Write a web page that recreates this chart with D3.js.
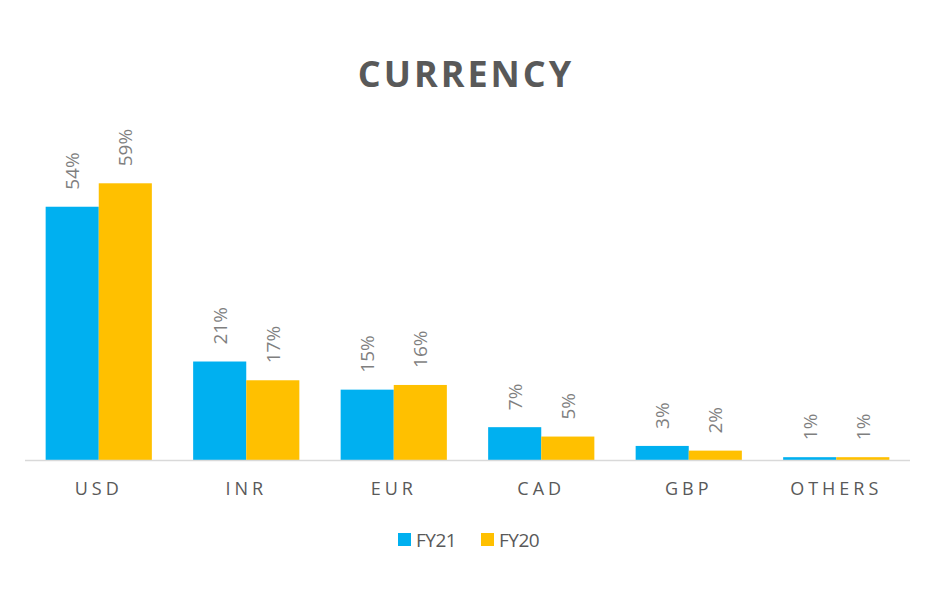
<!DOCTYPE html>
<html>
<head>
<meta charset="utf-8">
<script src="https://cdn.jsdelivr.net/npm/d3@7"></script>
<style>
  body { margin: 0; background: #fff; }
  text { font-family: "Open Sans", sans-serif; }
</style>
</head>
<body>
<div id="chart"></div>
<script>
let width = 936,
    height = 592;

// data
let categories = ["USD", "INR", "EUR", "CAD", "GBP", "OTHERS"];
let seriesNames = ["FY21", "FY20"];
let fy21 = [54, 21, 15, 7, 3, 0.6];
let fy20 = [59, 17, 16, 5, 2, 0.6];
let colors = ["#00B0F0", "#FFC000"];

let svg = d3.select("#chart").append("svg")
    .attr("width", width)
    .attr("height", height)
    .style("background", "#fff");

let x = d3.scaleBand()
    .domain(categories)
    .range([25, 910])
    .paddingInner(0.28)
    .paddingOuter(0.14);

let x1 = d3.scaleBand()
    .domain(seriesNames)
    .range([0, x.bandwidth()]);

let y = d3.scaleLinear()
    .domain([0, 60])
    .range([460, 178.6]);

let rows = categories.map((c, i) => ({cat: c, values: [fy21[i], fy20[i]]}));

// title
svg.append("text")
    .attr("x", 466)
    .attr("y", 87)
    .attr("text-anchor", "middle")
    .style("font-size", "36px")
    .style("font-weight", "bold")
    .style("letter-spacing", "3px")
    .style("fill", "#595959")
    .text("CURRENCY");

let groups = svg.selectAll(".grp")
    .data(rows)
    .enter().append("g")
    .attr("class", "grp")
    .attr("transform", d => "translate(" + x(d.cat) + ",0)");

groups.selectAll("rect")
    .data(d => d.values.map((v, j) => ({s: seriesNames[j], v: v, j: j})))
    .enter().append("rect")
    .attr("x", d => x1(d.s))
    .attr("y", d => y(d.v))
    .attr("width", x1.bandwidth())
    .attr("height", d => y(0) - y(d.v))
    .style("fill", d => colors[d.j]);

groups.selectAll(".lbl")
    .data(d => d.values.map((v, j) => ({s: seriesNames[j], v: v})))
    .enter().append("text")
    .attr("class", "lbl")
    .attr("transform", d => "translate(" + (x1(d.s) + x1.bandwidth() / 2 + 7) + "," + (y(d.v) - 17) + ") rotate(-90)")
    .style("font-size", "19px")
    .style("fill", "#7f7f7f")
    .text(d => Math.max(1, Math.round(d.v)) + "%");

// axis
let xAxis = svg.append("g")
    .attr("transform", "translate(0," + y(0) + ")")
    .call(d3.axisBottom(x).tickSize(0).tickPadding(22));
xAxis.select(".domain").attr("d", "M25,0.5H910").style("stroke", "#d9d9d9").style("stroke-width", 1.5);
xAxis.selectAll("text")
    .style("font-family", "'Open Sans', sans-serif")
    .style("font-size", "18px")
    .style("letter-spacing", "4px")
    .style("fill", "#595959");

// legend
let legend = svg.append("g").attr("transform", "translate(398,533)");
let items = legend.selectAll("g")
    .data(seriesNames)
    .enter().append("g")
    .attr("transform", (d, i) => "translate(" + (i * 83) + ",0)");
items.append("rect")
    .attr("width", 13).attr("height", 13)
    .style("fill", (d, i) => colors[i]);
items.append("text")
    .attr("x", 18).attr("y", 14)
    .style("font-size", "19px")
    .style("fill", "#595959")
    .style("letter-spacing", "-0.5px")
    .text(d => d);
</script>
</body>
</html>
